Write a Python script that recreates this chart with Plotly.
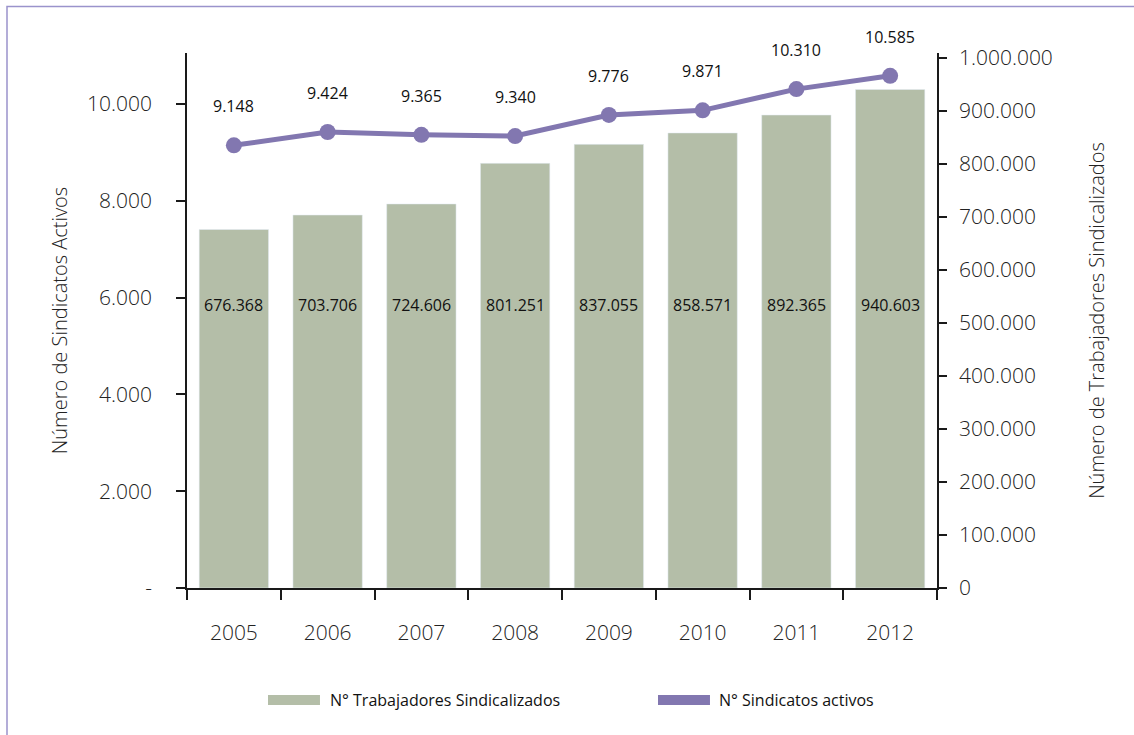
import plotly.graph_objects as go

years = ["2005", "2006", "2007", "2008", "2009", "2010", "2011", "2012"]
trabajadores = [676368, 703706, 724606, 801251, 837055, 858571, 892365, 940603]
sindicatos = [9148, 9424, 9365, 9340, 9776, 9871, 10310, 10585]

left_tickvals = [0, 2000, 4000, 6000, 8000, 10000]
left_ticktext = ["-", "2.000", "4.000", "6.000", "8.000", "10.000"]
right_tickvals = [0, 100000, 200000, 300000, 400000, 500000, 600000, 700000, 800000, 900000, 1000000]
right_ticktext = ["0", "100.000", "200.000", "300.000", "400.000", "500.000", "600.000",
                  "700.000", "800.000", "900.000", "1.000.000"]

BAR = "#b4bea8"
LINE = "#8277b0"
FONT = "Open Sans"
TICKC = "#222222"

def fmt(v):
    return f"{v:,}".replace(",", ".")

fig = go.Figure()
fig.add_trace(go.Bar(x=years, y=trabajadores, marker_color=BAR, yaxis="y",
                     name="N° Trabajadores Sindicalizados", showlegend=False))
fig.add_trace(go.Scatter(x=years, y=sindicatos, yaxis="y2", mode="lines+markers",
                         line=dict(color=LINE, width=5), marker=dict(color=LINE, size=16),
                         name="N° Sindicatos activos", showlegend=False))

ann = []
for i, v in enumerate(sindicatos):
    ann.append(dict(x=i, y=v, xref="x", yref="y2", text=fmt(v), showarrow=False,
                    yshift=39, font=dict(family=FONT, size=16, color="#111111")))
for i, v in enumerate(trabajadores):
    ann.append(dict(x=i, y=0.529, xref="x", yref="paper", text=fmt(v), showarrow=False,
                    font=dict(family=FONT, size=16, color="#111111")))

# legend (custom)
ann.append(dict(x=0.188, y=-0.2093, xref="paper", yref="paper", xanchor="left", yanchor="middle",
                text="N° Trabajadores Sindicalizados", showarrow=False,
                font=dict(family=FONT, size=16, color="#111111")))
ann.append(dict(x=0.7067, y=-0.2093, xref="paper", yref="paper", xanchor="left", yanchor="middle",
                text="N° Sindicatos activos", showarrow=False,
                font=dict(family=FONT, size=16, color="#111111")))

shapes = [
    dict(type="rect", xref="paper", yref="paper", x0=0.108, x1=0.1773, y0=-0.2187, y1=-0.2,
         fillcolor=BAR, line=dict(width=0)),
    dict(type="rect", xref="paper", yref="paper", x0=0.628, x1=0.6973, y0=-0.2187, y1=-0.2,
         fillcolor=LINE, line=dict(width=0)),
    dict(type="path", xref="paper", yref="paper",
         path="M -0.24,-0.30 L -0.24,1.0869 L 1.30,1.0869",
         line=dict(color="#9a93cc", width=1.5)),
]

fig.update_layout(
    width=1134, height=735,
    margin=dict(l=187, r=197, t=53, b=147),
    paper_bgcolor="white", plot_bgcolor="white",
    bargap=0.26,
    font=dict(family=FONT, color=TICKC),
    xaxis=dict(type="category", range=[-0.5, 7.5], showline=True, linecolor="#1a1a1a", linewidth=1.5,
               ticks="outside", tickson="boundaries", ticklen=10, tickcolor="#1a1a1a", tickwidth=1.5,
               tickfont=dict(family=FONT, size=21, color=TICKC, weight=300),
               ticklabelstandoff=25, showgrid=False, zeroline=False),
    yaxis=dict(side="right", range=[0, 1009400], tickvals=right_tickvals, ticktext=right_ticktext,
               showline=True, linecolor="#1a1a1a", linewidth=1.5, ticks="outside", ticklen=8,
               tickcolor="#1a1a1a", tickwidth=1.5, showgrid=False, zeroline=False,
               tickfont=dict(family=FONT, size=21, color=TICKC, weight=300), ticklabelstandoff=8,
               title=dict(text="Número de Trabajadores Sindicalizados", standoff=38,
                          font=dict(family=FONT, size=20, color=TICKC, weight=300))),
    yaxis2=dict(side="left", overlaying="y", anchor="x", range=[0, 11056],
                tickvals=left_tickvals, ticktext=left_ticktext,
                showline=True, linecolor="#1a1a1a", linewidth=1.5, ticks="outside", ticklen=9,
                tickcolor="#1a1a1a", tickwidth=1.5, showgrid=False, zeroline=False,
                tickfont=dict(family=FONT, size=21, color=TICKC, weight=300), ticklabelstandoff=20,
                title=dict(text="Número de Sindicatos Activos", standoff=14,
                           font=dict(family=FONT, size=20, color=TICKC, weight=300))),
    annotations=ann,
    shapes=shapes,
)

fig.write_html("out.html", config={"displayModeBar": False},
               post_script="document.body.style.margin='0';document.body.style.overflow='hidden';")
